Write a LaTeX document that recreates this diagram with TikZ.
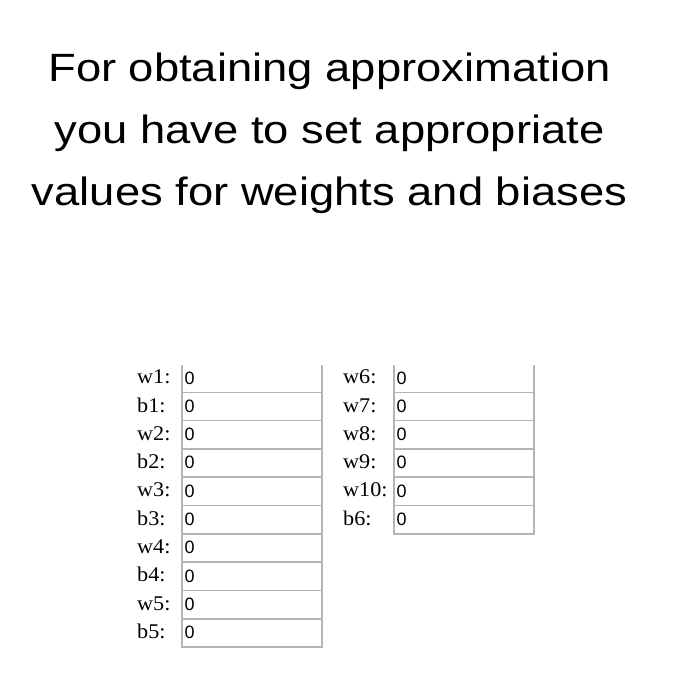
\documentclass[tikz,border=0pt]{standalone}
\usepackage{fontspec}
\setmainfont{Liberation Serif}
\newfontfamily\titlefont{Liberation Sans}
\newfontfamily\boxfont{Liberation Sans}
\definecolor{boxgray}{HTML}{B4B4B4}
\begin{document}
\begin{tikzpicture}[x=1bp,y=-1bp,
  titleline/.style={anchor=base,inner sep=0pt,font=\titlefont\fontsize{39.6}{44}\selectfont},
  fieldbox/.style={draw=boxgray,line width=1.6bp,rectangle,minimum width=140bp,minimum height=28.3bp,inner sep=0pt,anchor=north west},
  fieldlabel/.style={anchor=base west,inner sep=0pt,font=\fontsize{21}{23}\selectfont},
  fieldvalue/.style={anchor=base west,inner sep=0pt,font=\boxfont\fontsize{18}{20}\selectfont}]
\useasboundingbox (0,0) rectangle (700,700);
\node[titleline] (t1) at (329.5,82) {\scalebox{1.15}[1]{For obtaining approximation}};
\node[titleline] (t2) at (329.5,143.5) {\scalebox{1.15}[1]{you have to set appropriate}};
\node[titleline] (t3) at (329.5,205) {\scalebox{1.15}[1]{values for weights and biases}};
\begin{scope}
\clip (0,365) rectangle (700,700);
\foreach \k in {0,...,9}{
  \node[fieldbox] (L\k) at (181,363.2+28.3*\k) {};
}
\foreach \k in {0,...,5}{
  \node[fieldbox] (R\k) at (393,363.2+28.3*\k) {};
}
\end{scope}
\foreach \lab [count=\i from 0] in {w1,b1,w2,b2,w3,b3,w4,b4,w5,b5}{
  \node[fieldlabel] (LL\i) at (137,383.7+28.3*\i) {\scalebox{1.06}[1]{\lab:}};
  \node[fieldvalue] (LV\i) at (184.5,384+28.3*\i) {0};
}
\foreach \lab [count=\i from 0] in {w6,w7,w8,w9,w10,b6}{
  \node[fieldlabel] (RL\i) at (343,383.7+28.3*\i) {\scalebox{1.06}[1]{\lab:}};
  \node[fieldvalue] (RV\i) at (396.5,384+28.3*\i) {0};
}
\end{tikzpicture}
\end{document}
